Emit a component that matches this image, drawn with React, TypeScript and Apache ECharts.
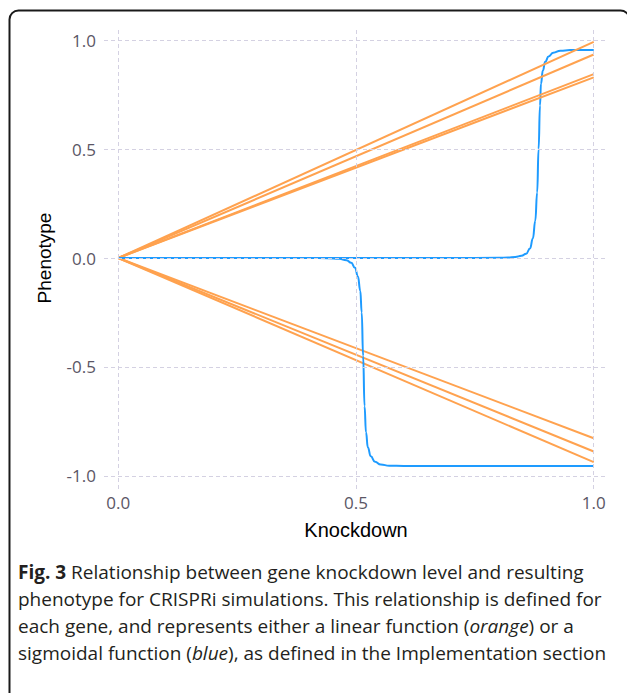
import React, { useEffect, useRef } from "react";
import * as echarts from "echarts";

const xTicks = [0, 0.5, 1.0];
const yTicks = [-1.0, -0.5, 0, 0.5, 1.0];
const linearEndX = 1.0;
const linearEndValues = [0.992, 0.934, 0.844, 0.829, -0.827, -0.888, -0.937];

const sigmoidUpX = [0, 0.7, 0.8, 0.82, 0.835, 0.848, 0.858, 0.866, 0.872, 0.877, 0.881, 0.884, 0.887, 0.889, 0.893, 0.898, 0.905, 0.915, 0.93, 0.95, 1.0];
const sigmoidUpY = [0, 0, 0.001, 0.002, 0.005, 0.01, 0.02, 0.044, 0.09, 0.17, 0.3, 0.5, 0.7, 0.8, 0.86, 0.9, 0.925, 0.942, 0.951, 0.954, 0.954];

const sigmoidDownX = [0, 0.4, 0.44, 0.465, 0.48, 0.49, 0.498, 0.504, 0.509, 0.512, 0.515, 0.518, 0.521, 0.525, 0.531, 0.54, 0.552, 0.57, 0.6, 1.0];
const sigmoidDownY = [0, 0, -0.001, -0.004, -0.01, -0.022, -0.045, -0.085, -0.15, -0.25, -0.45, -0.68, -0.8, -0.87, -0.91, -0.935, -0.948, -0.953, -0.954, -0.954];

const xName = "Knockdown";
const yName = "Phenotype";
const captionLines = [
  "{b|Fig. 3} Relationship between gene knockdown level and resulting",
  "phenotype for CRISPRi simulations. This relationship is defined for",
  "each gene, and represents either a linear function ({i|orange}) or a",
  "sigmoidal function ({i|blue}), as defined in the Implementation section",
];

const ORANGE = "#ffa24f";
const BLUE = "#1e9bff";
const GRID = "#d4d1e2";

export default function App() {
  const ref = useRef<HTMLDivElement>(null);
  useEffect(() => {
    if (!ref.current) return;
    const chart = echarts.init(ref.current, null, { renderer: "svg" });
    const linearSeries = linearEndValues.map((v) => ({
      type: "line",
      data: [
        [0, 0],
        [linearEndX, v],
      ],
      showSymbol: false,
      symbol: "none",
      lineStyle: { color: ORANGE, width: 2 },
      silent: true,
    }));
    const sig = (xs: number[], ys: number[]) => ({
      type: "line",
      data: xs.map((x, i) => [x, ys[i]]),
      showSymbol: false,
      symbol: "none",
      smooth: 0.5,
      smoothMonotone: "x",
      lineStyle: { color: BLUE, width: 2 },
      silent: true,
    });
    const gridSeries = {
      type: "line",
      data: [],
      silent: true,
      markLine: {
        silent: true,
        symbol: "none",
        label: { show: false },
        lineStyle: { color: GRID, width: 1, type: [4, 3] },
        data: [
          ...xTicks.map((v) => ({ xAxis: v })),
          ...yTicks.map((v) => ({ yAxis: v })),
        ],
      },
    };
    const caption = 19;
    chart.setOption({
      animation: false,
      grid: { left: 104, top: 27, width: 504, height: 462, containLabel: false },
      xAxis: {
        type: "value",
        min: -0.03,
        max: 1.03,
        axisLine: { show: false },
        axisTick: { show: false },
        splitLine: { show: false },
        axisLabel: {
          customValues: xTicks,
          formatter: (v: number) => v.toFixed(1),
          color: "#5b5665",
          fontFamily: "Open Sans",
          fontSize: 17,
          margin: 5,
        },
        name: xName,
        nameLocation: "middle",
        nameGap: 31,
        nameTextStyle: { color: "#000", fontFamily: "Liberation Sans", fontSize: 20 },
      },
      yAxis: {
        type: "value",
        min: -1.06,
        max: 1.06,
        axisLine: { show: false },
        axisTick: { show: false },
        splitLine: { show: false },
        axisLabel: {
          customValues: yTicks,
          formatter: (v: number) => v.toFixed(1),
          color: "#5b5665",
          fontFamily: "Open Sans",
          fontSize: 17,
          margin: 8,
        },
        name: yName,
        nameLocation: "middle",
        nameGap: 50,
        nameTextStyle: { color: "#000", fontFamily: "Liberation Sans", fontSize: 19 },
      },
      graphic: [
        {
          type: "rect",
          shape: { x: 9.5, y: 10.5, width: 620, height: 720, r: 9 },
          style: { fill: "none", stroke: "#1a1a1a", lineWidth: 2 },
          silent: true,
        },
        {
          type: "text",
          left: 18,
          top: 558,
          style: {
            text: captionLines.join("\n"),
            fill: "#231f20",
            fontFamily: "Open Sans",
            fontSize: caption,
            lineHeight: 27,
            rich: {
              b: { fontWeight: "bold", fontFamily: "Open Sans", fontSize: caption, lineHeight: 27, fill: "#231f20" },
              i: { fontStyle: "italic", fontFamily: "Open Sans", fontSize: caption, lineHeight: 27, fill: "#231f20" },
            },
          },
        },
      ],
      series: [
        gridSeries,
        sig(sigmoidUpX, sigmoidUpY),
        ...linearSeries,
        sig(sigmoidDownX, sigmoidDownY),
      ],
    });
    return () => chart.dispose();
  }, []);
  return (
    <div
      ref={ref}
      style={{ position: "fixed", left: 0, top: 0, width: 627, height: 693, background: "#fff" }}
    />
  );
}
